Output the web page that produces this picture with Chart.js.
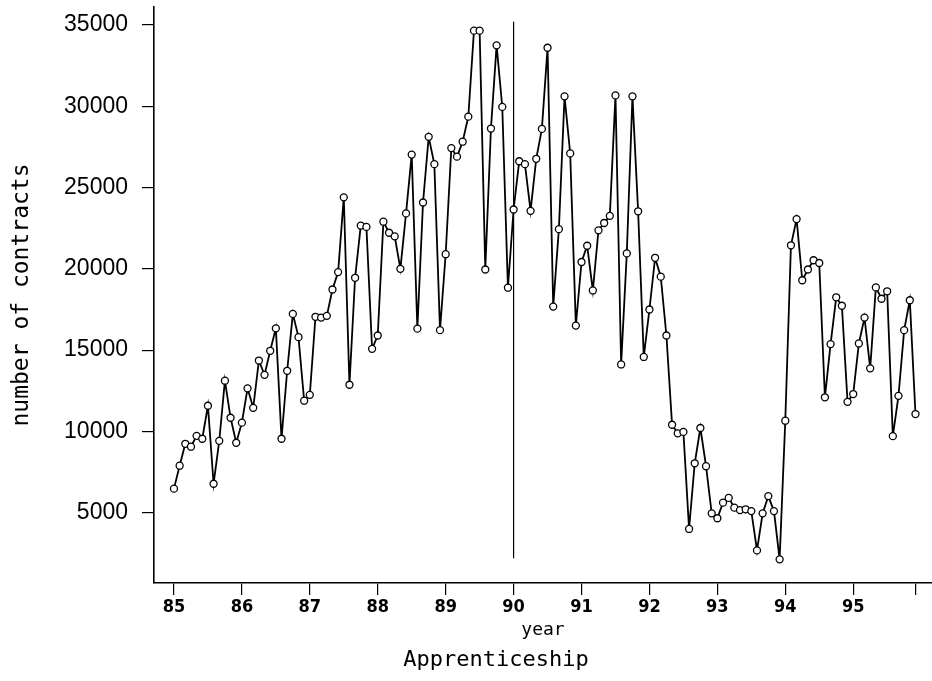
<!DOCTYPE html>
<html>
<head>
<meta charset="utf-8">
<title>Apprenticeship</title>
<script src="https://cdn.jsdelivr.net/npm/chart.js@4.4.1/dist/chart.umd.min.js"></script>
<style>
  html, body { margin: 0; padding: 0; background: #fff; }
  #wrap { width: 932px; height: 681px; }
</style>
</head>
<body>
<div id="wrap"><canvas id="chart" width="932" height="681"></canvas></div>
<script>
// monthly counts, Jan 85 .. Dec 95
const START_YEAR = 85;
const contracts = [
  6480, 7890, 9240, 9060, 9730, 9550, 11580, 6780, 9420, 13120, 10840, 9300,
  10540, 12650, 11450, 14360, 13480, 14960, 16340, 9550, 13730, 17230, 15800, 11890,
  12250, 17050, 17000, 17110, 18730, 19800, 24400, 12870, 19450, 22660, 22580, 15080,
  15900, 22900, 22220, 22000, 20000, 23410, 27030, 16320, 24080, 28120, 26440, 16230,
  20900, 27430, 26900, 27820, 29360, 34650, 34650, 19960, 28630, 33750, 29960, 18840,
  23650, 26620, 26440, 23570, 26770, 28610, 33600, 17680, 22440, 30610, 27100, 16510,
  20420, 21420, 18670, 22370, 22820, 23260, 30670, 14120, 20950, 30610, 23540, 14580,
  17500, 20680, 19520, 15900, 10410, 9880, 9970, 4000, 8040, 10210, 7860, 4960,
  4660, 5620, 5910, 5310, 5160, 5210, 5100, 2680, 4960, 6020, 5100, 2130,
  10660, 21450, 23060, 19300, 19960, 20530, 20360, 12100, 15370, 18250, 17730, 11820,
  12300, 15410, 17000, 13880, 18860, 18160, 18620, 9710, 12190, 16230, 18070, 11070,
];
const xTicks = [85, 86, 87, 88, 89, 90, 91, 92, 93, 94, 95, 95 + 11 / 12];
const xTickLabels = ['85', '86', '87', '88', '89', '90', '91', '92', '93', '94', '95', ''];
const yTicks = [5000, 10000, 15000, 20000, 25000, 30000, 35000];
const markerLine = [{ x: 90, y: 35200 }, { x: 90, y: 2200 }];

const points = contracts.map((v, i) => ({ x: START_YEAR + i / 12, y: v }));

// labels hang over the plot edges in the original, so drop Chart.js' edge padding
function noEdgePadding(s) {
  s.paddingLeft = 0;
  s.paddingRight = 0;
  s.paddingTop = 0;
  s.paddingBottom = 0;
}

const caption = {
  id: 'caption',
  afterDraw(chart) {
    const ctx = chart.ctx;
    ctx.save();
    ctx.fillStyle = '#000';
    ctx.font = "22px 'DejaVu Sans Mono'";
    ctx.textAlign = 'center';
    ctx.textBaseline = 'middle';
    ctx.fillText('Apprenticeship', 496, 660);
    ctx.restore();
  },
};

new Chart(document.getElementById('chart'), {
  type: 'line',
  data: {
    datasets: [
      {
        label: 'contracts',
        data: points,
        borderColor: '#000',
        borderWidth: 1.8,
        tension: 0,
        pointRadius: 3.5,
        pointBorderWidth: 1.3,
        pointBorderColor: '#000',
        pointBackgroundColor: '#fff',
      },
      {
        label: 'marker',
        data: markerLine,
        borderColor: '#000',
        borderWidth: 1.2,
        pointRadius: 0,
      },
    ],
  },
  options: {
    responsive: false,
    animation: false,
    layout: { autoPadding: false, padding: { top: 7, left: 0, right: 0, bottom: 0 } },
    plugins: { legend: { display: false }, tooltip: { enabled: false } },
    scales: {
      x: {
        type: 'linear',
        min: 84.706,
        max: 96.16,
        afterBuildTicks: s => { s.ticks = xTicks.map(v => ({ value: v })); },
        afterFit: s => { s.height = 98; noEdgePadding(s); },
        grid: { drawOnChartArea: false, tickLength: 12, color: '#000', lineWidth: 1.2 },
        border: { color: '#000', width: 1.6 },
        ticks: {
          color: '#000',
          padding: 2,
          maxRotation: 0,
          autoSkip: false,
          font: { family: "'DejaVu Sans Condensed', 'DejaVu Sans'", size: 18, weight: 'bold' },
          callback: (v, i) => xTickLabels[i],
        },
        title: {
          display: true,
          text: 'year',
          color: '#000',
          font: { family: "'DejaVu Sans Mono'", size: 18 },
          padding: { top: 0, bottom: 40 },
        },
      },
      y: {
        min: 676,
        max: 36107,
        afterBuildTicks: s => { s.ticks = yTicks.map(v => ({ value: v })); },
        afterFit: s => { s.width = 154; noEdgePadding(s); },
        grid: { drawOnChartArea: false, tickLength: 12, color: '#000', lineWidth: 1.2 },
        border: { color: '#000', width: 1.6 },
        ticks: {
          color: '#000',
          padding: 14,
          font: { family: "'Liberation Sans'", size: 23 },
          callback: v => String(v),
        },
        title: {
          display: true,
          text: 'number of contracts',
          color: '#000',
          font: { family: "'DejaVu Sans Mono'", size: 23 },
          padding: { top: 8, bottom: 0 },
        },
      },
    },
  },
  plugins: [caption],
});
</script>
</body>
</html>
